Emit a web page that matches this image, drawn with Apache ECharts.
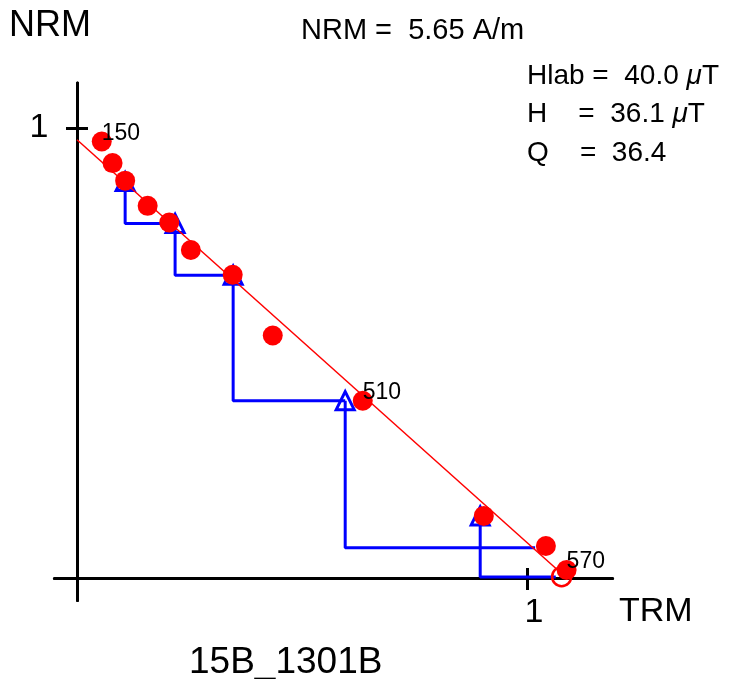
<!DOCTYPE html>
<html>
<head>
<meta charset="utf-8">
<script src="https://cdn.jsdelivr.net/npm/echarts@6/dist/echarts.min.js"></script>
<style>
  html, body { margin: 0; padding: 0; background: #fff; }
  #arai-chart { width: 738px; height: 679px; }
</style>
</head>
<body>
<div id="arai-chart"></div>
<script>
// Arai plot, values as fractions of NRM0 / TRM
const trmX = [0.055, 0.079, 0.107, 0.157, 0.205, 0.253, 0.346, 0.435, 0.635, 0.904, 1.042, 1.088]
const nrmY = [0.970, 0.922, 0.883, 0.827, 0.790, 0.729, 0.674, 0.539, 0.394, 0.138, 0.071, 0.018]
const stepLabels = ['150', '', '', '', '', '', '', '', '510', '', '', '570']

// open circle (not filled)
const openX = [1.077]
const openY = [0.003]

// pTRM checks: triangle position and the end of the step line drawn from it
const checkX = [0.107, 0.218, 0.347, 0.596, 0.896]
const checkY = [0.881, 0.788, 0.673, 0.394, 0.138]
const checkToX = [0.218, 0.347, 0.596, 1.018, 1.064]
const checkToY = [0.788, 0.673, 0.394, 0.067, 0.002]

// best fit line
const fitX = [0, 1.088]
const fitY = [0.974, 0.0]

// axis ticks / labels
const tickValues = [1]

const fontFamily = "'Liberation Sans', Arial, sans-serif"
const black = '#000000'
const red = '#ff0000'
const blue = '#0000ff'

function makeCheckSeries () {
  let series = []
  for (let i = 0; i < checkX.length; i++) {
    series.push({
      type: 'line',
      data: [[checkX[i], checkY[i]], [checkX[i], checkToY[i]], [checkToX[i], checkToY[i]]],
      symbol: 'none',
      lineStyle: { color: blue, width: 3 },
      silent: true,
      z: 2
    })
  }
  return series
}

function titleText (text, left, top, size, rich) {
  let style = { fontSize: size, fontWeight: 'normal', color: black, fontFamily: fontFamily }
  if (rich) {
    style.rich = { i: { fontStyle: 'italic', fontSize: size, fontFamily: fontFamily, color: black } }
  }
  return { text: text, left: left, top: top, padding: 0, textStyle: style }
}

const axisCommon = {
  type: 'value',
  splitLine: { show: false },
  axisLine: { onZero: true, onZeroAxisIndex: 0, lineStyle: { color: black, width: 3 } }
}

const chart = echarts.init(document.getElementById('arai-chart'))
const option = {
  animation: false,
  backgroundColor: '#ffffff',
  title: [
    titleText('NRM', 9, 8, 36),
    titleText('TRM', 619, 595, 34),
    titleText('15B_1301B', 189, 644, 37),
    titleText('NRM =  5.65 A/m', 301, 16, 29),
    titleText('Hlab =  40.0 {i|μ}T', 527, 62, 28, true),
    titleText('H    =  36.1 {i|μ}T', 527, 100.5, 28, true),
    titleText('Q    =  36.4', 527, 139, 28)
  ],
  grid: {
    left: 54.5,
    right: 125.5,
    top: 83,
    bottom: 78.5,
    containLabel: false,
    outerBoundsMode: 'none'
  },
  xAxis: [
    Object.assign({}, axisCommon, {
      min: -0.05,
      max: 1.19,
      position: 'bottom',
      axisTick: { customValues: tickValues, length: 12, lineStyle: { color: black, width: 3 } },
      axisLabel: { customValues: tickValues, margin: -5, fontSize: 34, color: black, fontFamily: fontFamily, padding: [0, 0, 0, 14] }
    }),
    Object.assign({}, axisCommon, {
      min: -0.05,
      max: 1.19,
      position: 'top',
      axisTick: { customValues: tickValues, length: 10, lineStyle: { color: black, width: 3 } },
      axisLabel: { show: false }
    })
  ],
  yAxis: [
    Object.assign({}, axisCommon, {
      min: -0.05,
      max: 1.1,
      position: 'left',
      axisTick: { customValues: tickValues, length: 11, lineStyle: { color: black, width: 3 } },
      axisLabel: { customValues: tickValues, margin: 6, fontSize: 34, color: black, fontFamily: fontFamily }
    }),
    Object.assign({}, axisCommon, {
      min: -0.05,
      max: 1.1,
      position: 'right',
      axisTick: { customValues: tickValues, length: 11, lineStyle: { color: black, width: 3 } },
      axisLabel: { show: false }
    })
  ],
  series: makeCheckSeries().concat([
    {
      type: 'scatter',
      data: checkX.map((x, i) => [x, checkY[i]]),
      symbol: 'triangle',
      symbolSize: 18,
      itemStyle: { color: 'rgba(0,0,0,0)', borderColor: blue, borderWidth: 3, opacity: 1 },
      silent: true,
      z: 3
    },
    {
      type: 'line',
      data: fitX.map((x, i) => [x, fitY[i]]),
      symbol: 'none',
      lineStyle: { color: red, width: 1.5 },
      silent: true,
      z: 4
    },
    {
      type: 'scatter',
      data: openX.map((x, i) => [x, openY[i]]),
      symbol: 'circle',
      symbolSize: 19,
      itemStyle: { color: 'rgba(0,0,0,0)', borderColor: red, borderWidth: 2.5, opacity: 1 },
      silent: true,
      z: 5
    },
    {
      type: 'scatter',
      data: trmX.map((x, i) => [x, nrmY[i]]),
      symbol: 'circle',
      symbolSize: 20,
      itemStyle: { color: red, opacity: 1 },
      label: {
        show: true,
        position: 'inside',
        align: 'left',
        verticalAlign: 'middle',
        offset: [0, -8],
        formatter: p => stepLabels[p.dataIndex],
        fontSize: 23,
        color: black,
        fontFamily: fontFamily
      },
      silent: true,
      z: 6
    }
  ])
}
chart.setOption(option)
</script>
</body>
</html>
